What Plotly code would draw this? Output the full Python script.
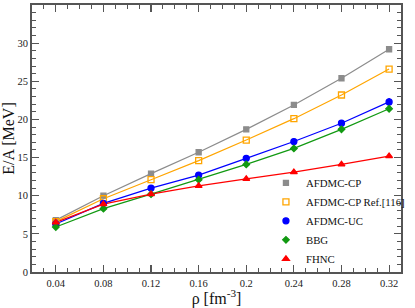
import plotly.graph_objects as go

rho = [0.04, 0.08, 0.12, 0.16, 0.20, 0.24, 0.28, 0.32]
rho_labels = ["0.04", "0.08", "0.12", "0.16", "0.2", "0.24", "0.28", "0.32"]
afdmc_cp = [6.8, 10.0, 12.9, 15.7, 18.7, 21.9, 25.4, 29.2]
afdmc_cp_ref = [6.6, 9.6, 12.1, 14.6, 17.3, 20.1, 23.2, 26.6]
afdmc_uc = [6.3, 9.0, 11.0, 12.7, 14.9, 17.1, 19.5, 22.3]
afdmc_uc_err = [0.1, 0.15, 0.15, 0.2, 0.2, 0.25, 0.3, 0.5]
bbg = [5.9, 8.3, 10.2, 12.1, 14.1, 16.2, 18.7, 21.4]
fhnc = [6.5, 8.9, 10.2, 11.3, 12.2, 13.1, 14.1, 15.2]

series = [
    ("AFDMC-CP", afdmc_cp, None, "#8c8c8c", "square", 5),
    ("AFDMC-CP Ref.[116]", afdmc_cp_ref, None, "#ffa500", "square-open", 6),
    ("AFDMC-UC", afdmc_uc, afdmc_uc_err, "#0000ff", "circle", 6),
    ("BBG", bbg, None, "#119911", "diamond", 5),
    ("FHNC", fhnc, None, "#ff0000", "triangle-up", 6),
]

fig = go.Figure()
for name, ys, err, col, sym, sz in series:
    fig.add_trace(go.Scatter(x=rho, y=ys, mode="lines", line=dict(color=col, width=1.2),
                             showlegend=False, hoverinfo="skip"))
for name, ys, err, col, sym, sz in series:
    kw = {}
    if err is not None:
        kw["error_y"] = dict(type="data", array=err, color=col, thickness=1.5, width=0)
    fig.add_trace(go.Scatter(x=rho, y=ys, mode="markers", name=name,
                             marker=dict(color=col, symbol=sym, size=sz,
                                         line=dict(color=col, width=1.3)), **kw))

axis_common = dict(
    showgrid=False, zeroline=False, showline=True, linecolor="#555555", linewidth=2,
    mirror="ticks", ticks="inside", ticklen=7, tickwidth=1.2, tickcolor="#555555",
    tickfont=dict(family="Liberation Serif", size=10.5, color="#222222"),
    automargin=False,
)
fig.update_xaxes(range=[0.02, 0.33], autorange=False, tickvals=rho, ticktext=rho_labels,
                 minor=dict(dtick=0.01, tick0=0.0, ticks="inside", ticklen=4, tickcolor="#555555", tickwidth=1),
                 title=dict(text="ρ [fm<sup>-3</sup>]", font=dict(family="Liberation Serif", size=16, color="#111111"), standoff=2),
                 **axis_common)
fig.update_yaxes(range=[0, 35], autorange=False, dtick=5, tick0=0,
                 minor=dict(dtick=1, ticks="inside", ticklen=4, tickcolor="#555555", tickwidth=1),
                 title=dict(text="E/A [MeV]", font=dict(family="Liberation Serif", size=16, color="#111111"), standoff=2),
                 **axis_common)

fig.update_layout(
    width=415, height=308, autosize=False,
    margin=dict(l=32, r=9, t=5, b=36),
    plot_bgcolor="white", paper_bgcolor="white",
    legend=dict(x=0.634, y=-0.005, xanchor="left", yanchor="bottom", bgcolor="rgba(0,0,0,0)",
                font=dict(family="Liberation Serif", size=10.8, color="#111111"),
                itemwidth=30, tracegroupgap=0, traceorder="normal"),
)

fig.write_html("out.html",
               config={"displayModeBar": False, "staticPlot": True, "responsive": False},
               post_script="document.body.style.margin='0px';document.body.style.padding='0px';document.body.style.overflow='hidden';")
